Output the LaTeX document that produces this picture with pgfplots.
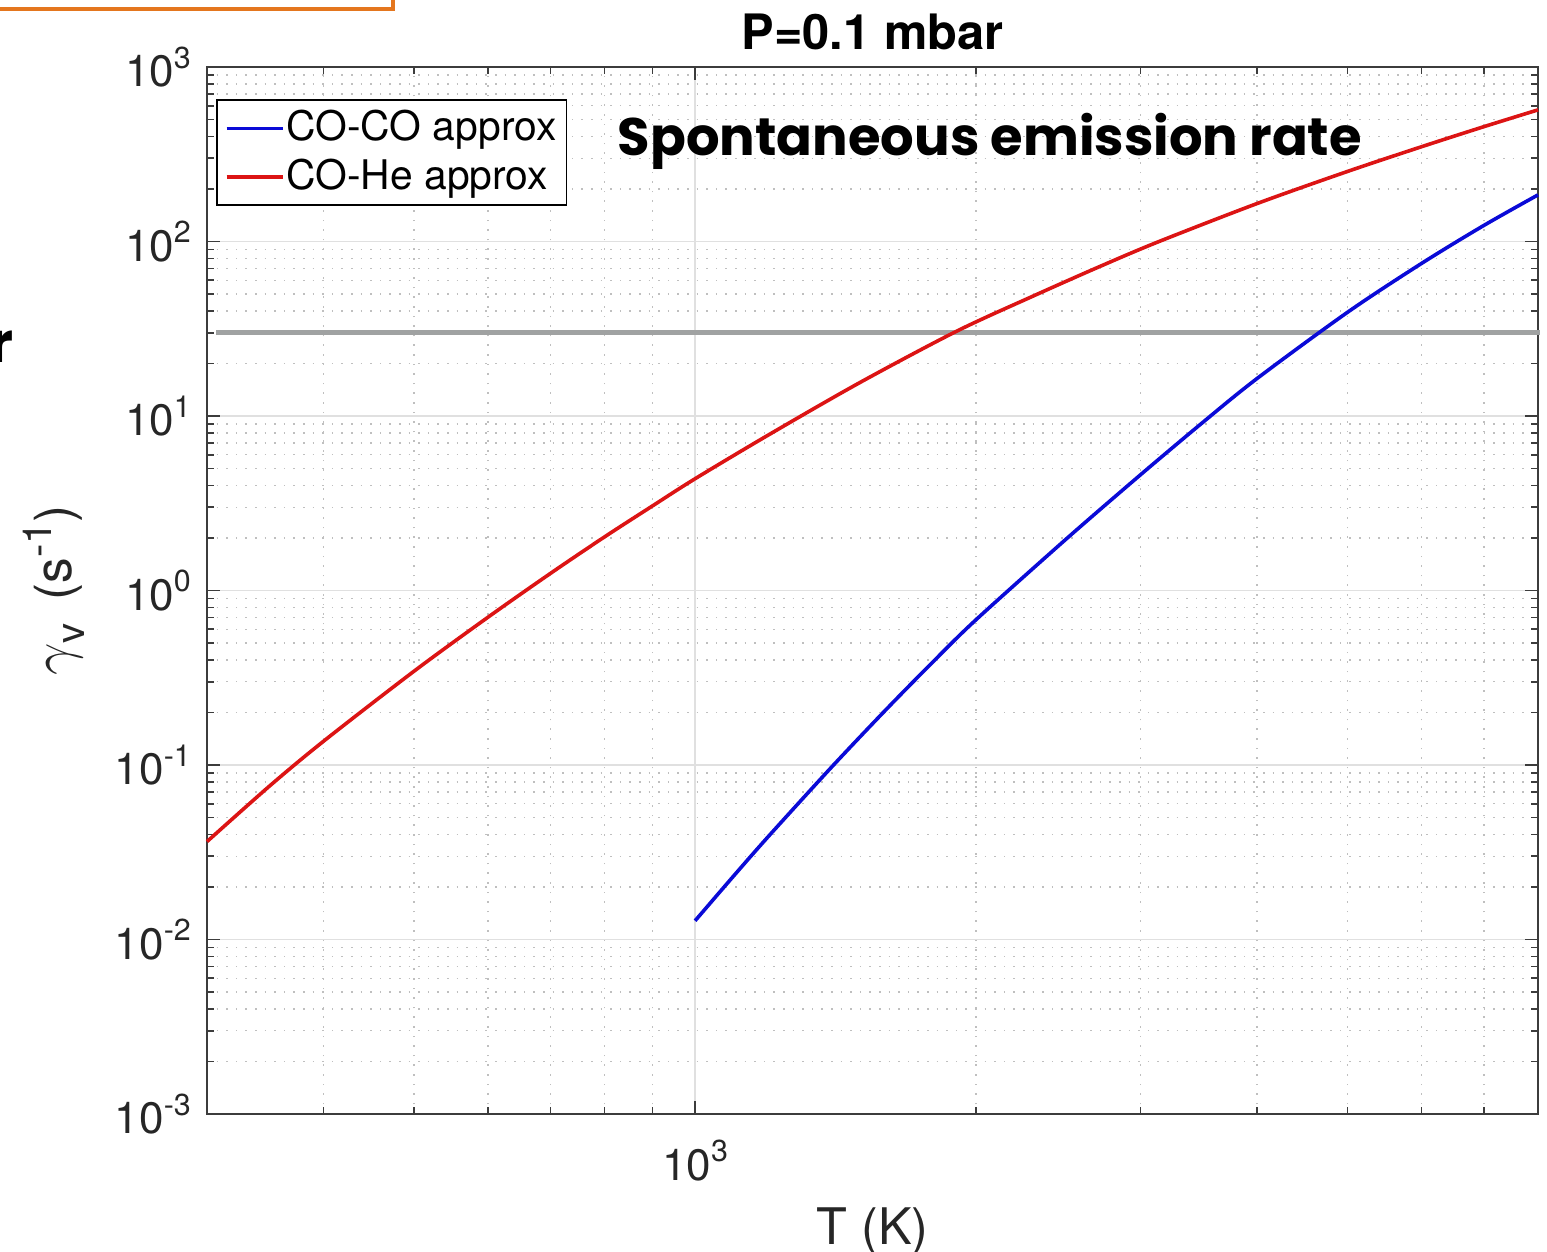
\documentclass[border=0pt]{standalone}
\usepackage{pgfplots}
\pgfplotsset{compat=1.18}
\usepackage{fontspec}
\setmainfont{TeX Gyre Heros}
\newfontfamily\comic{Poppins}
\definecolor{mblue}{RGB}{10,10,215}
\definecolor{mred}{RGB}{220,20,20}
\definecolor{hgray}{RGB}{160,162,162}
\definecolor{axgray}{RGB}{60,60,60}
\definecolor{orng}{RGB}{228,118,30}
\newcommand{\tl}[1]{10\raisebox{4.6pt}{\fontsize{7.6}{9}\selectfont #1}}
\begin{document}
\begin{tikzpicture}
\useasboundingbox (-51.75pt,-34.5pt) rectangle (335pt,278.5pt);
\begin{axis}[
  scale only axis, width=332.75pt, height=261.75pt,
  xmode=log, ymode=log,
  xmin=300, xmax=8000, ymin=1e-3, ymax=1e3,
  xtick={1000}, xticklabels={\tl{3}},
  minor xtick={400,500,600,700,800,900,2000,3000,4000,5000,6000,7000},
  ytick={1e-3,1e-2,1e-1,1,10,100,1000},
  yticklabels={\tl{-3},\tl{-2},\tl{-1},\tl{0},\tl{1},\tl{2},\tl{3}},
  minor ytick={0.002,0.003,0.004,0.005,0.006,0.007,0.008,0.009,
    0.02,0.03,0.04,0.05,0.06,0.07,0.08,0.09,
    0.2,0.3,0.4,0.5,0.6,0.7,0.8,0.9,
    2,3,4,5,6,7,8,9,
    20,30,40,50,60,70,80,90,
    200,300,400,500,600,700,800,900},
  tick align=inside,
  major tick length=3.25pt, minor tick length=1.75pt,
  every tick/.style={axgray, line width=0.4pt},
  axis line style={axgray, line width=0.5pt},
  grid=both,
  major grid style={solid, black!12, line width=0.35pt},
  minor grid style={dotted, black!25, line width=0.35pt},
  tick label style={font=\fontsize{11}{13}\selectfont, text=black!85},
  yticklabel style={xshift=-0.5pt},
  xticklabel style={yshift=-3pt},
  every axis title/.style={at={(0.5,1)}, anchor=base, yshift=4.25pt,
    font=\bfseries\fontsize{12.2}{14}\selectfont},
  title={P=0.1 mbar},
  every axis x label/.style={at={(axis description cs:0.5,0)}, anchor=base, yshift=-32.75pt,
    font=\fontsize{12.6}{15}\selectfont, text=black!85},
  every axis y label/.style={at={(axis description cs:-0.1015,0.5)}, anchor=base, rotate=90,
    font=\fontsize{12.8}{15}\selectfont, text=black!85},
  xlabel={T (K)},
  ylabel={{\fontsize{14}{15}\selectfont$\gamma$}\raisebox{-3.2pt}{\fontsize{10}{12}\selectfont v}\,
    (s\raisebox{5pt}{\fontsize{10}{12}\selectfont -1})},
  legend style={at={(0.0068,0.969)}, anchor=north west, draw=black, line width=0.4pt,
    font=\fontsize{10.2}{12}\selectfont, inner xsep=2pt, inner ysep=0.5pt,
    row sep=-1pt, nodes={inner xsep=0.5pt, inner ysep=2pt}},
  legend cell align=left,
  legend image code/.code={\draw[#1, line width=0.9pt] (0pt,0pt) -- (14pt,0pt);},
  clip=false,
]
\addplot[hgray, line width=1.3pt, forget plot] coordinates {(307,30) (8035,30)};
\addplot[mblue, line width=0.9pt, smooth] coordinates {
(1000,0.0128) (1100,0.02315) (1200,0.0393) (1400,0.0971) (1600,0.2064) (1800,0.392)
(2000,0.68) (2500,1.98) (3000,4.6) (3500,9.2) (4000,16.4) (5000,39.3) (6000,74.8)
(7000,123.6) (8000,185)};
\addlegendentry{CO-CO approx}
\addplot[mred, line width=0.9pt, smooth] coordinates {
(300,0.0364) (350,0.0757) (400,0.137) (500,0.345) (600,0.703) (700,1.253) (800,2.03)
(900,3.05) (1000,4.37) (1200,7.82) (1500,15.5) (1904,30.5) (2295,48.3) (2706,71.4)
(3134,99.5) (4000,165) (5000,252) (6000,349) (7000,455) (8000,568)};
\addlegendentry{CO-He approx}
\end{axis}
\node[anchor=base, inner sep=0pt] at (195.75pt,239.5pt)
  {\resizebox{186pt}{!}{\comic\bfseries Spontaneous emission rate}};
\node[anchor=north east, inner sep=0pt] at (-48.25pt,196pt) {\comic\bfseries\fontsize{14}{16}\selectfont r};
\draw[orng, line width=1pt] (-60pt,276.25pt) -- (46.5pt,276.25pt) -- (46.5pt,290pt);
\end{tikzpicture}
\end{document}
